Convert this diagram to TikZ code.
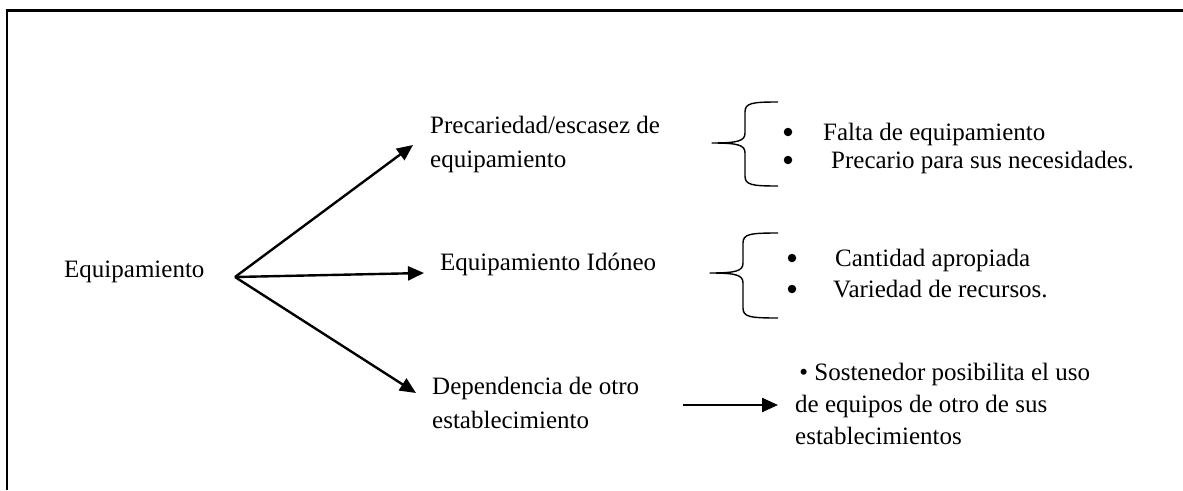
\documentclass[tikz,border=0pt]{standalone}
\usepackage{fontspec}
\setmainfont{Liberation Serif}
\usetikzlibrary{arrows.meta}
\begin{document}
\begin{tikzpicture}[x=1pt,y=-1pt,
  txt/.style={anchor=base west, inner sep=0pt, font=\fontsize{25}{34}\selectfont},
  bul/.style={circle, fill=black, inner sep=0pt, minimum size=8.5pt},
  arr/.style={line width=2.4pt, -{Triangle[length=16pt,width=14pt]}},
  brc/.style={line width=1.4pt, line join=round},
  frame/.style={line width=2.4pt}]
\useasboundingbox (0,0) rectangle (1183,490);
\draw[frame] (7,490) -- (7,10.5) -- (1183,10.5);

% left root
\node[txt] (eq) at (64,277) {Equipamiento};
\coordinate (v) at (235,277);

% branch 1
\node[txt] (p1) at (430,133) {Precariedad/escasez de};
\node[txt] (p2) at (430,167) {equipamiento};
\coordinate (t1) at (413,145);
\draw[arr] (v) -- (t1);

% branch 2
\node[txt] (id) at (440,270) {Equipamiento Idóneo};
\coordinate (t2) at (424,273);
\draw[arr] (v) -- (t2);

% branch 3
\node[txt] (d1) at (432,394) {Dependencia de otro};
\node[txt] (d2) at (432,428) {establecimiento};
\coordinate (t3) at (416,393);
\draw[arr] (v) -- (t3);

% brace 1
\draw[brc] (778,102) .. controls (752,102) and (745,103) .. (745,112) -- (745,133)
  .. controls (745,141) and (738,143) .. (712,143)
  .. controls (738,143) and (745,145) .. (745,153) -- (745,176)
  .. controls (745,185) and (752,186) .. (778,186);
\node[bul] (b1) at (788,132) {};
\node[txt] (f1) at (823,140) {Falta de equipamiento};
\node[bul] (b2) at (788,160) {};
\node[txt] (f2) at (831,168) {Precario para sus necesidades.};

% brace 2
\draw[brc] (778,233) .. controls (750,233) and (743,234) .. (743,243) -- (743,263)
  .. controls (743,271) and (736,273) .. (710,273)
  .. controls (736,273) and (743,275) .. (743,283) -- (743,308)
  .. controls (743,317) and (750,318) .. (778,318);
\node[bul] (b3) at (792,258) {};
\node[txt] (c1) at (835,266) {Cantidad apropiada};
\node[bul] (b4) at (792,289) {};
\node[txt] (c2) at (833,297) {Variedad de recursos.};

% bottom right
\node[txt] (s1) at (795,380) {\,• Sostenedor posibilita el uso};
\node[txt] (s2) at (795,412) {de equipos de otro de sus};
\node[txt] (s3) at (795,444) {establecimientos};
\coordinate (a4s) at (683,405);
\coordinate (a4e) at (778,405);
\draw[arr] (a4s) -- (a4e);
\end{tikzpicture}
\end{document}
